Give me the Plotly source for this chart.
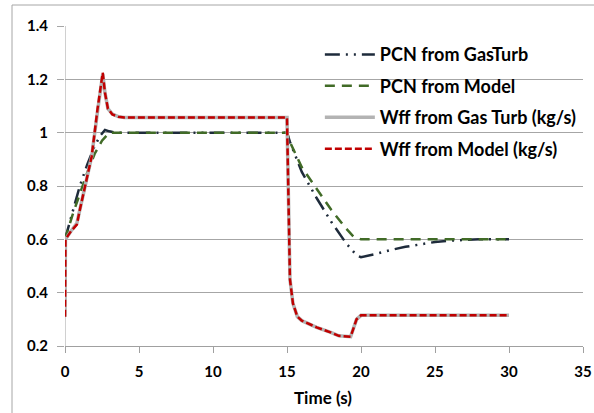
import plotly.graph_objects as go

# ---- data ----
t_pcn_gt = [0, 0.5, 1.0, 1.5, 2.0, 2.4, 2.7, 3.0, 3.4, 15.0, 15.2, 16.0, 17.0, 18.0, 19.0, 19.7, 20.0, 21.0, 22.0, 23.0, 24.0, 25.0, 26.0, 27.0, 28.0, 30.0]
v_pcn_gt = [0.6, 0.7, 0.8, 0.88, 0.95, 0.99, 1.01, 1.005, 1.0, 1.0, 0.965, 0.853, 0.755, 0.665, 0.585, 0.54, 0.533, 0.545, 0.56, 0.572, 0.582, 0.59, 0.595, 0.598, 0.6, 0.6]

t_pcn_model = [0, 0.5, 1.0, 1.5, 2.0, 2.5, 3.0, 15.0, 15.2, 16.0, 17.0, 18.0, 19.0, 19.5, 20.0, 30.0]
v_pcn_model = [0.6, 0.69, 0.77, 0.85, 0.92, 0.97, 1.0, 1.0, 0.965, 0.87, 0.79, 0.71, 0.64, 0.61, 0.6, 0.6]

t_wff_gt = [0, 0.03, 0.4, 0.8, 1.0, 1.4, 1.8, 2.2, 2.4, 2.55, 2.7, 2.9, 3.2, 3.6, 4.0, 15.0, 15.05, 15.1, 15.2, 15.4, 15.7, 16.0, 17.0, 18.0, 18.5, 19.3, 19.5, 19.7, 20.0, 30.0]
v_wff_gt = [0.31, 0.6, 0.63, 0.66, 0.71, 0.81, 0.91, 1.08, 1.17, 1.22, 1.15, 1.09, 1.07, 1.06, 1.057, 1.057, 0.9, 0.7, 0.45, 0.36, 0.31, 0.295, 0.27, 0.25, 0.238, 0.235, 0.265, 0.3, 0.315, 0.315]

t_wff_model = [0, 0.03, 0.4, 0.8, 1.0, 1.4, 1.8, 2.2, 2.4, 2.55, 2.7, 2.9, 3.2, 3.6, 4.0, 15.0, 15.05, 15.1, 15.2, 15.4, 15.7, 16.0, 17.0, 18.0, 18.5, 19.3, 19.5, 19.7, 20.0, 30.0]
v_wff_model = [0.31, 0.6, 0.63, 0.655, 0.71, 0.81, 0.91, 1.09, 1.175, 1.225, 1.15, 1.09, 1.068, 1.06, 1.057, 1.057, 0.9, 0.7, 0.45, 0.36, 0.31, 0.295, 0.27, 0.25, 0.238, 0.235, 0.265, 0.3, 0.315, 0.315]

x_ticks = [0, 5, 10, 15, 20, 25, 30, 35]
y_ticks = [0.2, 0.4, 0.6, 0.8, 1.0, 1.2, 1.4]
y_labels = ["0.2", "0.4", "0.6", "0.8", "1", "1.2", "1.4"]

FONT = "Lato"
BOLD = dict(family=FONT, size=15, color="#000", weight="bold")
fig = go.Figure()

fig.add_trace(go.Scatter(x=t_pcn_gt, y=v_pcn_gt, mode="lines", name="PCN from GasTurb",
                         legendgroup="a",
                         line=dict(color="#1e2b3b", width=2.5, dash="15px,6px,2px,6px,2px,6px")))
fig.add_trace(go.Scatter(x=t_pcn_model, y=v_pcn_model, mode="lines", name="PCN from Model",
                         legendgroup="b",
                         line=dict(color="#416b27", width=2.5, dash="10px,7px")))
fig.add_trace(go.Scatter(x=t_wff_gt, y=v_wff_gt, mode="lines", name="Wff from Gas Turb (kg/s)",
                         legendgroup="c",
                         line=dict(color="#b3b3b3", width=3.5)))
fig.add_trace(go.Scatter(x=t_wff_model, y=v_wff_model, mode="lines", name="Wff from Model (kg/s)",
                         legendgroup="d",
                         line=dict(color="#c00000", width=2.5, dash="7px,3px")))

# outer chart border (only left/top visible inside the window)
fig.add_shape(type="rect", xref="paper", yref="paper", x0=-0.1023, x1=1.05, y0=-0.3, y1=1.0656,
              line=dict(color="#a6a6a6", width=1), layer="below")

fig.add_annotation(x=17.4, y=0, xref="x", yref="paper", yanchor="middle", xanchor="center",
                   text="Time (s)", showarrow=False, yshift=-51,
                   font=dict(family=FONT, size=17, color="#000", weight="bold"))

# light-gray vertical axis line at x=0
fig.add_shape(type="line", xref="x", yref="paper", x0=0, x1=0, y0=-0.02, y1=1,
              line=dict(color="#d0d0d0", width=2), layer="below")

fig.update_layout(
    width=594, height=413,
    margin=dict(l=65, r=11, t=26, b=67, autoexpand=False),
    paper_bgcolor="white", plot_bgcolor="white",
    font=BOLD,
    showlegend=True,
    legend=dict(x=0.492, y=0.968, xanchor="left", yanchor="top", bgcolor="rgba(0,0,0,0)",
                font=dict(family=FONT, size=18, color="#000", weight="bold"),
                tracegroupgap=5, itemwidth=50),
    xaxis=dict(range=[0, 35], tickvals=x_ticks,
               showgrid=False, zeroline=False, showline=True, linecolor="#a0a0a0", linewidth=1,
               ticks="outside", ticklen=6, tickcolor="#a0a0a0", tickfont=BOLD,
               ticklabelstandoff=6, automargin=False, fixedrange=True),
    yaxis=dict(range=[0.2, 1.4], tickvals=y_ticks, ticktext=y_labels,
               showgrid=True, gridcolor="#a6a6a6", gridwidth=1, zeroline=False,
               showline=False, ticks="outside", ticklen=7, tickcolor="#a6a6a6",
               tickfont=BOLD, ticklabelstandoff=6, automargin=False, fixedrange=True),
)

fig.write_html("out.html", config={"displayModeBar": False},
               post_script="document.body.style.margin='0';")
